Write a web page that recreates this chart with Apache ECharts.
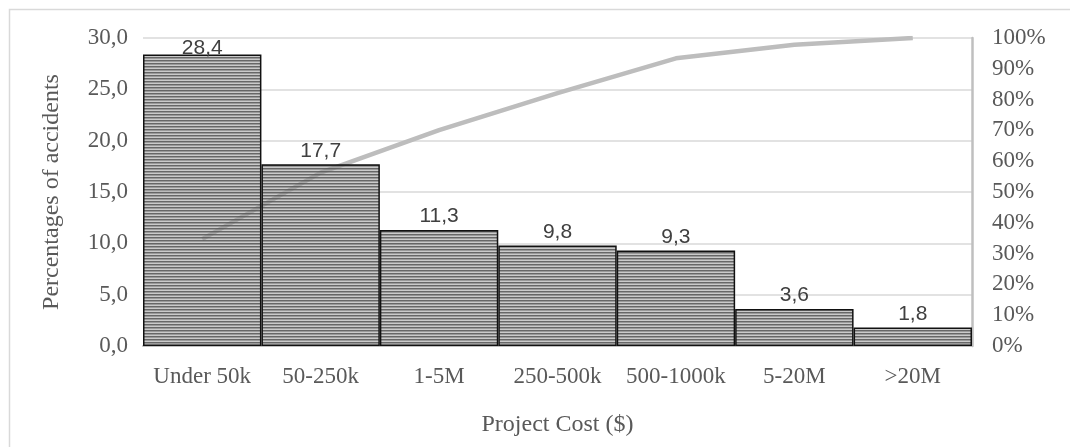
<!DOCTYPE html>
<html>
<head>
<meta charset="utf-8">
<script src="https://cdn.jsdelivr.net/npm/echarts@6/dist/echarts.min.js"></script>
<style>
  html, body { margin: 0; padding: 0; background: #ffffff; }
  #chart { width: 1070px; height: 447px; }
</style>
</head>
<body>
<div id="chart"></div>
<script>
// Accident share by project cost, with cumulative share (Pareto view)
const categories = ['Under 50k', '50-250k', '1-5M', '250-500k', '500-1000k', '5-20M', '>20M'];
const accidentShares = [28.4, 17.7, 11.3, 9.8, 9.3, 3.6, 1.8];
const cumulativeShares = [34.7, 56.3, 70.1, 82.1, 93.4, 97.8, 100];
const leftTicks = { min: 0, max: 30, interval: 5 };
const rightTicks = { min: 0, max: 100, interval: 10 };

// Horizontal hatch fill for the bars
function stripePattern() {
  const c = document.createElement('canvas');
  c.width = 4; c.height = 3;
  const ctx = c.getContext('2d');
  ctx.fillStyle = 'rgba(90,90,90,0.92)';
  ctx.fillRect(0, 0, 4, 1);
  ctx.fillStyle = 'rgba(120,120,120,0.75)';
  ctx.fillRect(0, 1, 4, 1);
  ctx.fillStyle = 'rgba(150,150,150,0.5)';
  ctx.fillRect(0, 2, 4, 1);
  return c;
}

const comma = v => v.toFixed(1).replace('.', ',');
const serif = '"Liberation Serif", "Times New Roman", serif';

// Tallest bar keeps its label tucked just under the top of the plot
const barData = accidentShares.map(v =>
  v >= leftTicks.max - 2 ? { value: v, label: { distance: -4 } } : v);

const chart = echarts.init(document.getElementById('chart'));
chart.setOption({
  animation: false,
  backgroundColor: '#ffffff',
  graphic: [{
    type: 'rect',
    shape: { x: 9.5, y: 9.5, width: 1100, height: 500 },
    style: { fill: 'none', stroke: '#d9d9d9', lineWidth: 1.5 },
    silent: true
  }],
  grid: { left: 143, right: 98, top: 38, bottom: 101 },
  xAxis: {
    type: 'category',
    data: categories,
    name: 'Project Cost ($)',
    nameLocation: 'middle',
    nameGap: 67,
    nameTextStyle: { fontFamily: serif, fontSize: 24, color: '#595959' },
    axisLine: { show: true, lineStyle: { color: '#bfbfbf', width: 2 } },
    axisTick: { show: false },
    axisLabel: { fontFamily: serif, fontSize: 23, color: '#595959', margin: 19, interval: 0 }
  },
  yAxis: [{
    type: 'value',
    min: leftTicks.min, max: leftTicks.max, interval: leftTicks.interval,
    name: 'Percentages of accidents',
    nameLocation: 'middle',
    nameGap: 79,
    nameRotate: 90,
    nameTextStyle: { fontFamily: serif, fontSize: 24, color: '#595959' },
    axisLine: { show: false },
    axisTick: { show: false },
    axisLabel: { fontFamily: serif, fontSize: 23, color: '#595959', margin: 15, formatter: comma },
    splitLine: { lineStyle: { color: '#d9d9d9', width: 1.5 } }
  }, {
    type: 'value',
    position: 'right',
    min: rightTicks.min, max: rightTicks.max, interval: rightTicks.interval,
    axisLine: { show: true, lineStyle: { color: '#bfbfbf', width: 2.5 } },
    axisTick: { show: false },
    axisLabel: { fontFamily: serif, fontSize: 23, color: '#595959', margin: 20, formatter: '{value}%' },
    splitLine: { show: false }
  }],
  series: [{
    type: 'line',
    yAxisIndex: 1,
    data: cumulativeShares,
    symbol: 'none',
    lineStyle: { color: '#bdbdbd', width: 4.5 },
    z: 1
  }, {
    type: 'bar',
    data: barData,
    barCategoryGap: '0%',
    itemStyle: {
      color: { image: stripePattern(), repeat: 'repeat' },
      borderColor: '#111111',
      borderWidth: 1.5
    },
    label: {
      show: true,
      position: 'top',
      distance: 3,
      fontFamily: '"Liberation Sans", Arial, sans-serif',
      fontSize: 21,
      color: '#404040',
      formatter: p => comma(p.value)
    },
    z: 2
  }]
});
</script>
</body>
</html>
